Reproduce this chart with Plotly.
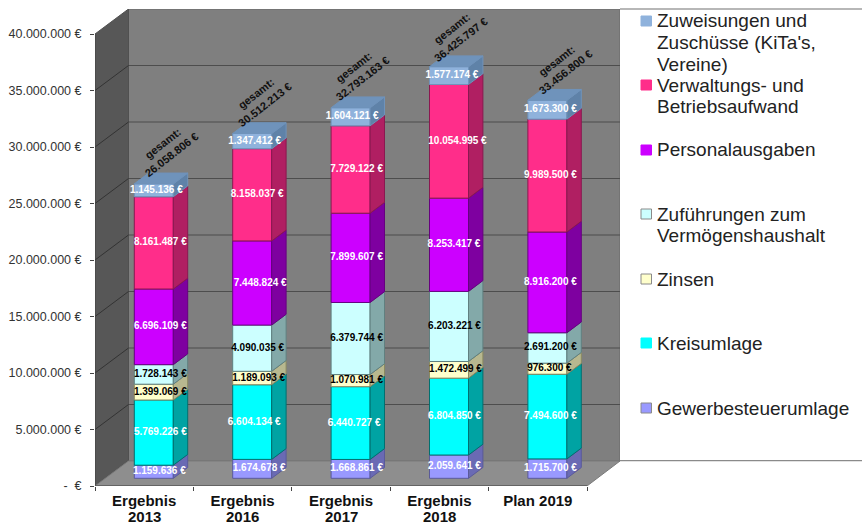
import plotly.graph_objects as go

# ---------- data ----------
cat_line1 = ["Ergebnis", "Ergebnis", "Ergebnis", "Ergebnis", "Plan 2019"]
cat_line2 = ["2013", "2016", "2017", "2018", ""]
gewerbe = [1159636, 1674678, 1668861, 2059641, 1715700]
kreis = [5769226, 6604134, 6440727, 6804850, 7494600]
zinsen = [1399069, 1189093, 1070981, 1472499, 976300]
zufuehrung = [1728143, 4090035, 6379744, 6203221, 2691200]
personal = [6696109, 7448824, 7899607, 8253417, 8916200]
verwaltung = [8161487, 8158037, 7729122, 10054995, 9989500]
zuweisung = [1145136, 1347412, 1604121, 1577174, 1673300]
totals = [26058806, 30512213, 32793163, 36425797, 33456800]
y_ticks = [0, 5000000, 10000000, 15000000, 20000000, 25000000, 30000000, 35000000, 40000000]
legend_labels = [["Zuweisungen und", "Zuschüsse (KiTa's,", "Vereine)"], ["Verwaltungs- und", "Betriebsaufwand"],
                 ["Personalausgaben"], ["Zuführungen zum", "Vermögenshaushalt"], ["Zinsen"], ["Kreisumlage"],
                 ["Gewerbesteuerumlage"]]

series = [gewerbe, kreis, zinsen, zufuehrung, personal, verwaltung, zuweisung]
names = ["Gewerbesteuerumlage", "Kreisumlage", "Zinsen", "Zuführungen zum Vermögenshaushalt",
         "Personalausgaben", "Verwaltungs- und Betriebsaufwand", "Zuweisungen und Zuschüsse (KiTa's, Vereine)"]
front = ["#9999ff", "#00ffff", "#ffffcc", "#ccffff", "#cc00ff", "#ff2d8a", "#8fb2dc"]
side = ["#6a6ab4", "#00a3a3", "#b8b88f", "#83a9a9", "#7e00a0", "#b01f62", "#5f82a8"]
edge = ["#5a5a9a", "#007070", "#8a8a60", "#608080", "#660080", "#8a1850", "#6f93bb"]
top_face = "#6f93bb"
label_col = ["white", "white", "black", "black", "white", "white", "white"]

# ---------- layout constants ----------
W, H = 862, 525
L, T, R_PX, B_PX = 95, 9, 620, 486
CAT_PX = 98.4
VAL_PX = 56.5 / 5000000
WALL_DX, WALL_DY = 33.5, 25
BAR_W, BAR_DX, BAR_DY = 39, 14.4, 10.8
OFF_X, OFF_Y = 9.6, 7.7


def dx(p):
    return p / CAT_PX


def dy(p):
    return p / VAL_PX


def px(p):
    return (p - L) / (R_PX - L)


def py(p):
    return 1 - (p - T) / (B_PX - T)


x_max = (R_PX - L) / CAT_PX
y_max = (B_PX - T) / VAL_PX
n = len(cat_line1)
centers = [i + 0.5 + dx(OFF_X) for i in range(n)]
base0 = dy(OFF_Y)

fig = go.Figure()

# walls
shapes = []


def poly(points, fill, line=None, width=1):
    path = "M " + " L ".join(f"{a},{b}" for a, b in points) + " Z"
    shapes.append(dict(type="path", path=path, xref="x", yref="y", layer="below", fillcolor=fill,
                       line=dict(color=line or fill, width=width)))


wx, wy = dx(WALL_DX), dy(WALL_DY)
top_front = y_ticks[-1]
poly([(wx, wy), (x_max, wy), (x_max, top_front + wy), (wx, top_front + wy)], "#7f7f7f", "#6a6a6a")
poly([(0, 0), (wx, wy), (wx, top_front + wy), (0, top_front)], "#575757", "#505050")
poly([(0, 0), (n, 0), (x_max, wy), (wx, wy)], "#8e8e8e", "#7a7a7a")
for t in y_ticks[1:-1]:
    shapes.append(dict(type="line", xref="x", yref="y", x0=wx, x1=x_max, y0=t + wy, y1=t + wy, layer="below",
                       line=dict(color="#4d4d4d", width=1)))
    shapes.append(dict(type="line", xref="x", yref="y", x0=0, x1=wx, y0=t, y1=t + wy, layer="below",
                       line=dict(color="#333333", width=1)))

# legend frame
shapes.append(dict(type="line", xref="paper", yref="paper", x0=1, x1=px(W), y0=1, y1=1,
                   line=dict(color="#707070", width=1.2)))
shapes.append(dict(type="line", xref="paper", yref="paper", x0=1, x1=px(W), y0=py(460.7), y1=py(460.7),
                   line=dict(color="#8a8a8a", width=1.2)))

# bars: front, side faces, labels
LABEL_X = [
    [5.5, 6.5, 6.5, 6.5, 6.5, 6.5, 2.5],
    [7, 2, 6.5, 5.5, 8, 5, 2.5],
    [6, 3.5, 6, 6, 6, 6, 1.5],
    [5.5, 5.5, 6.5, 5.5, 5, 8.5, 3],
    [3, 3, 2, 3, 3, 3, 3],
]

cum = [0] * n
for k, vals in enumerate(series):
    bases = [c + base0 for c in cum]
    fig.add_trace(go.Bar(x=centers, y=vals, base=bases, width=dx(BAR_W), name=names[k], showlegend=False,
                         marker=dict(color=front[k], line=dict(color=edge[k], width=1)),
                         hovertemplate="%{y:,}<extra>" + names[k] + "</extra>"))
    sx, sy = [], []
    for i in range(n):
        xr = centers[i] + dx(BAR_W) / 2
        y0, y1 = bases[i], bases[i] + vals[i]
        sx += [xr, xr + dx(BAR_DX), xr + dx(BAR_DX), xr, xr, None]
        sy += [y0, y0 + dy(BAR_DY), y1 + dy(BAR_DY), y1, y0, None]
    fig.add_trace(go.Scatter(x=sx, y=sy, mode="lines", fill="toself", fillcolor=side[k],
                             line=dict(color=edge[k], width=1), hoverinfo="skip", showlegend=False))
    cum = [c + v for c, v in zip(cum, vals)]

# top faces
tx, ty = [], []
for i in range(n):
    xl = centers[i] - dx(BAR_W) / 2
    xr = centers[i] + dx(BAR_W) / 2
    yt = cum[i] + base0
    tx += [xl, xr, xr + dx(BAR_DX), xl + dx(BAR_DX), xl, None]
    ty += [yt, yt, yt + dy(BAR_DY), yt + dy(BAR_DY), yt, None]
fig.add_trace(go.Scatter(x=tx, y=ty, mode="lines", fill="toself", fillcolor=top_face,
                         line=dict(color=top_face, width=1), hoverinfo="skip", showlegend=False))

# value labels
cum = [0] * n
for k, vals in enumerate(series):
    lx = [centers[i] + dx(LABEL_X[i][k]) for i in range(n)]
    ly = [cum[i] + vals[i] / 2 + base0 for i in range(n)]
    txt = [f"{v:,}".replace(",", ".") + " €" for v in vals]
    fig.add_trace(go.Scatter(x=lx, y=ly, mode="text", text=txt, textposition="middle center", cliponaxis=False,
                             textfont=dict(family="Liberation Sans", size=10, color=label_col[k],
                                           weight="bold"),
                             hoverinfo="skip", showlegend=False))
    cum = [c + v for c, v in zip(cum, vals)]

# front axis lines
fig.add_trace(go.Scatter(x=[0, 0, n], y=[top_front, 0, 0], mode="lines", line=dict(color="#444444", width=1),
                         hoverinfo="skip", showlegend=False, cliponaxis=False))

annotations = []
# totals
GES_DX = [13, 8, 7, 7, 14]
GES_DY = [35, 35, 35, 33, 34]
for i in range(n):
    annotations.append(dict(x=centers[i], y=cum[i] + base0, xref="x", yref="y", xshift=GES_DX[i], yshift=GES_DY[i],
                            text="gesamt:<br>" + f"{totals[i]:,}".replace(",", ".") + " €", showarrow=False,
                            textangle=-38, xanchor="center", yanchor="middle", align="center",
                            font=dict(family="Liberation Sans", size=11, color="#111111", weight="bold")))
# second line of category labels
for i in range(n):
    if cat_line2[i]:
        annotations.append(dict(x=i + 0.5, y=0, xref="x", yref="y", yshift=-30.5, text=cat_line2[i], showarrow=False,
                                xanchor="center", yanchor="middle", borderpad=0,
                                font=dict(family="Liberation Sans", size=15, color="#111111", weight="bold")))

# legend
LEG_Y = [21, 85, 150, 214, 279, 343, 408]
LEG_LINE = 21.8
for j, lines in enumerate(legend_labels):
    c = front[::-1][j]
    shapes.append(dict(type="rect", xref="paper", yref="paper", x0=px(641), x1=px(651.5),
                       y0=py(LEG_Y[j] + 5), y1=py(LEG_Y[j] - 5), fillcolor=c,
                       line=dict(color="#8a8a8a" if j in (3, 4, 6) else c, width=1)))
    for m, line_text in enumerate(lines):
        annotations.append(dict(x=px(655), y=py(LEG_Y[j] + m * LEG_LINE), xref="paper", yref="paper", text=line_text,
                                showarrow=False, xanchor="left", yanchor="middle", align="left",
                                font=dict(family="Liberation Sans", size=19, color="#222222")))

fig.update_layout(
    width=W, height=H, autosize=False, barmode="overlay", showlegend=False,
    paper_bgcolor="white", plot_bgcolor="white",
    margin=dict(l=L, r=W - R_PX, t=T, b=H - B_PX, pad=0),
    shapes=shapes, annotations=annotations,
    xaxis=dict(range=[0, x_max], tickmode="array", tickvals=[i + 0.5 for i in range(n)], ticktext=cat_line1,
               ticks="outside", ticklen=1, tickcolor="rgba(0,0,0,0)", showgrid=False, zeroline=False, showline=False,
               tickfont=dict(family="Liberation Sans", size=15, color="#111111", weight="bold"),
               minor=dict(tickmode="array", tickvals=list(range(n + 1)), ticks="outside", ticklen=4,
                          tickcolor="#444444", showgrid=False)),
    yaxis=dict(range=[0, y_max], tickmode="array", tickvals=y_ticks,
               ticktext=["-  €"] + [f"{t:,}".replace(",", ".") + " €" for t in y_ticks[1:]],
               ticks="outside", ticklen=4, tickcolor="#444444", showgrid=False, zeroline=False, showline=False,
               ticklabelstandoff=6,
               tickfont=dict(family="Liberation Sans", size=12.5, color="#333333")),
)

fig.write_html("out.html", config={"displayModeBar": False},
               post_script="document.body.style.margin='0';document.body.style.overflow='hidden';")
